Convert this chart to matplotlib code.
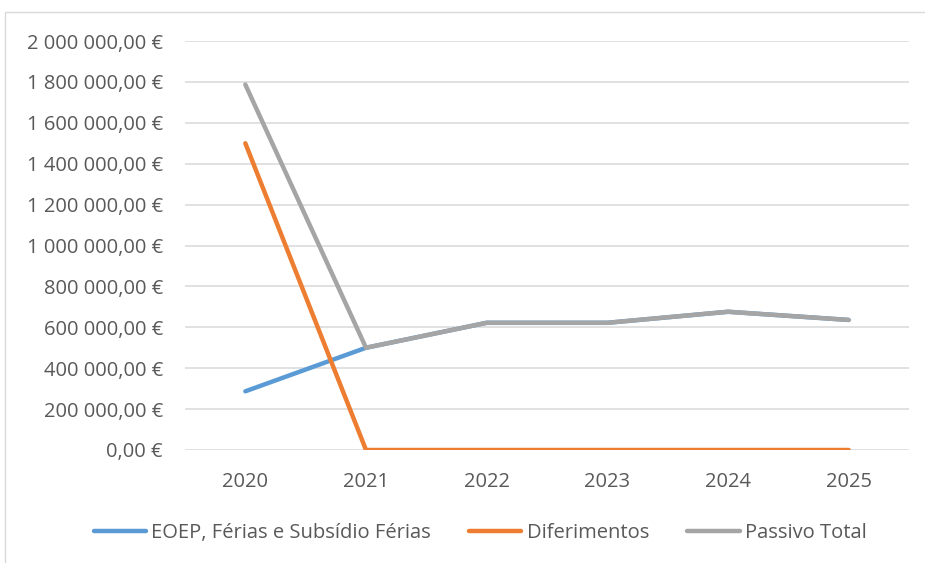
import matplotlib.pyplot as plt
from matplotlib.patches import Rectangle
from matplotlib.ticker import FuncFormatter

anos = ['2020', '2021', '2022', '2023', '2024', '2025']
eoep = [287000, 500000, 622000, 622000, 676000, 636000]
diferimentos = [1500000, 0, 0, 0, 0, 0]
passivo_total = [1787000, 500000, 622000, 622000, 676000, 636000]

plt.rcParams['font.family'] = ['Open Sans', 'DejaVu Sans']
cor_texto = '#595959'

fig = plt.figure(figsize=(9.25, 5.63), dpi=100)
ax = fig.add_axes([185 / 925, 1 - 450 / 563, 724 / 925, 409 / 563])

x = range(len(anos))
ax.plot(x, eoep, color='#5B9BD5', lw=3.2, solid_capstyle='round', label='EOEP, Férias e Subsídio Férias')
ax.plot(x, diferimentos, color='#ED7D31', lw=3.2, solid_capstyle='round', label='Diferimentos')
ax.plot(x, passivo_total, color='#A5A5A5', lw=3.2, solid_capstyle='round', label='Passivo Total')

ax.set_xlim(-0.5, 5.5)
ax.set_ylim(0, 2000000)
ax.set_yticks(range(0, 2000001, 200000))
ax.set_xticks(list(x))
ax.set_xticklabels(anos)


def euro(v, pos):
    return f'{v:,.2f}'.replace(',', ' ').replace('.', ',') + ' €'


ax.yaxis.set_major_formatter(FuncFormatter(euro))
ax.grid(axis='y', color='#D9D9D9', lw=1.1)
ax.set_axisbelow(True)
for s in ax.spines.values():
    s.set_visible(False)
ax.tick_params(length=0, labelsize=14.5, labelcolor=cor_texto)
ax.tick_params(axis='y', pad=16)
ax.tick_params(axis='x', pad=16)

fig.legend(loc='center', bbox_to_anchor=(480 / 925, 1 - 533 / 563), ncol=3,
           frameon=False, fontsize=14.5, labelcolor=cor_texto,
           handlelength=2.6, handletextpad=0.25, columnspacing=1.9)

# moldura do gráfico
fig.patches.append(Rectangle((5 / 925, -0.1), 1.1, 1.1 - 12 / 563, transform=fig.transFigure,
                             fill=False, edgecolor='#D9D9D9', lw=1, clip_on=False))

fig.savefig('out.png', dpi=100)
